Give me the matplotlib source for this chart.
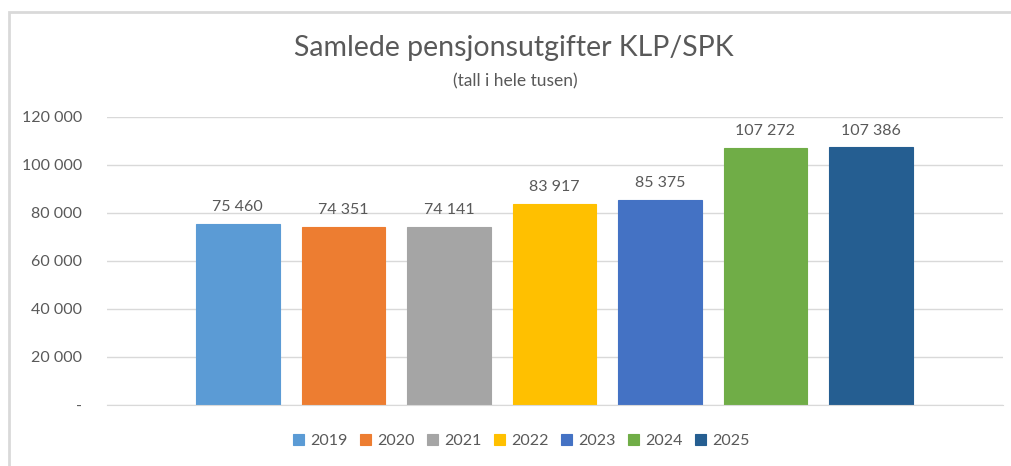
import matplotlib.pyplot as plt
from matplotlib.patches import Rectangle

plt.rcParams['font.family'] = ['Lato', 'DejaVu Sans']

years = ["2019", "2020", "2021", "2022", "2023", "2024", "2025"]
values = [75460, 74351, 74141, 83917, 85375, 107272, 107386]
colors = ["#5B9BD5", "#ED7D31", "#A5A5A5", "#FFC000", "#4472C4", "#70AD47", "#255E91"]
yticks = [0, 20000, 40000, 60000, 80000, 100000, 120000]

txt = "#595959"


def fmt(v):
    return "-" if v == 0 else f"{v:,}".replace(",", " ")


fig = plt.figure(figsize=(10.12, 4.66), dpi=100)
ax = fig.add_axes([0.1057, 0.1309, 0.8853, 0.6181])

# chart frame (light gray, like the Excel chart area)
fig.add_artist(Rectangle((9 / 1012, -0.01), 1.02, 1 - 12 / 466 + 0.01,
                         transform=fig.transFigure, fill=False,
                         edgecolor="#D9D9D9", linewidth=2))

x = list(range(len(years)))
bars = ax.bar(x, values, width=0.79, color=colors, label=years, zorder=2,
              edgecolor=colors, linewidth=0.8)
for xi, v in zip(x, values):
    ax.annotate(fmt(v), (xi, v), xytext=(0, 7), textcoords="offset points",
                ha="center", va="bottom", fontsize=11.5, color=txt)

ax.set_xlim(-1.24, 6.28 + 0.97)
ax.set_ylim(0, 120000)
ax.set_yticks(yticks)
ax.set_yticklabels([fmt(t) for t in yticks], fontsize=11.5, color=txt)
ax.set_xticks([])
ax.tick_params(axis="y", length=0, pad=18)
ax.grid(axis="y", color="#D9D9D9", linewidth=1, zorder=0)
for s in ["top", "right", "left"]:
    ax.spines[s].set_visible(False)
ax.spines["bottom"].set_color("#D9D9D9")

fig.text(0.508, 0.898, "Samlede pensjonsutgifter KLP/SPK", ha="center",
         va="center", fontsize=20.5, color=txt)
fig.text(0.509, 0.825, "(tall i hele tusen)", ha="center", va="center",
         fontsize=12.5, color=txt)

fig.legend(bars, years, loc="center", bbox_to_anchor=(0.515, 0.053), ncol=7,
           frameon=False, fontsize=11.5, labelcolor=txt, handlelength=0.7,
           handleheight=0.7, handletextpad=0.35, columnspacing=0.8)

fig.savefig("out.png", dpi=100)
